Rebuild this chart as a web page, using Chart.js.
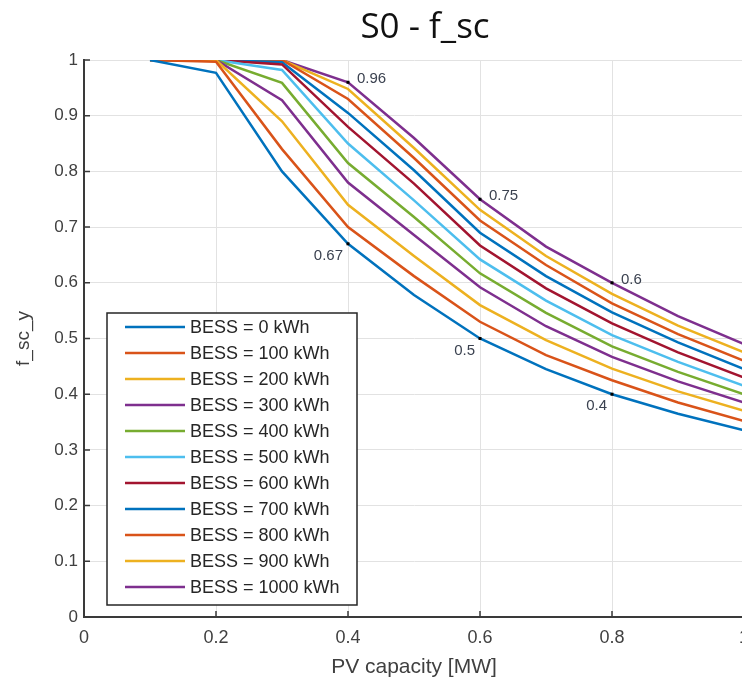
<!DOCTYPE html>
<html>
<head>
<meta charset="utf-8">
<script src="https://cdn.jsdelivr.net/npm/chart.js@4.4.1/dist/chart.umd.min.js"></script>
<style>
  html, body { margin: 0; padding: 0; overflow: hidden; background: #fff; }
</style>
</head>
<body>
<canvas id="myChart" width="770" height="680"></canvas>
<script>
// PV capacity [MW] sampled every 0.1
const pvCapacity = [0.1, 0.2, 0.3, 0.4, 0.5, 0.6, 0.7, 0.8, 0.9, 1.0];

// f_sc_y for each battery size
const bess0    = [1.0, 0.977, 0.80, 0.67, 0.578, 0.50, 0.445, 0.40, 0.365, 0.335];
const bess100  = [1.0, 0.997, 0.84, 0.70, 0.612, 0.53, 0.470, 0.425, 0.385, 0.352];
const bess200  = [1.0, 1.0, 0.89, 0.74, 0.648, 0.56, 0.497, 0.446, 0.405, 0.370];
const bess300  = [1.0, 1.0, 0.928, 0.78, 0.686, 0.592, 0.522, 0.467, 0.423, 0.385];
const bess400  = [1.0, 1.0, 0.959, 0.815, 0.718, 0.617, 0.546, 0.486, 0.440, 0.400];
const bess500  = [1.0, 1.0, 0.982, 0.85, 0.748, 0.642, 0.568, 0.506, 0.458, 0.415];
const bess600  = [1.0, 1.0, 0.992, 0.88, 0.778, 0.667, 0.590, 0.527, 0.475, 0.430];
const bess700  = [1.0, 1.0, 0.996, 0.905, 0.802, 0.69, 0.612, 0.547, 0.493, 0.445];
const bess800  = [1.0, 1.0, 1.0, 0.93, 0.824, 0.712, 0.632, 0.563, 0.508, 0.460];
const bess900  = [1.0, 1.0, 1.0, 0.948, 0.842, 0.731, 0.648, 0.580, 0.523, 0.475];
const bess1000 = [1.0, 1.0, 1.0, 0.96, 0.86, 0.75, 0.665, 0.60, 0.540, 0.490];

const bessSizes = [0, 100, 200, 300, 400, 500, 600, 700, 800, 900, 1000];
const series = [bess0, bess100, bess200, bess300, bess400, bess500,
                bess600, bess700, bess800, bess900, bess1000];

// x positions where the outer curves are marked with their value
const markedX = [0.4, 0.6, 0.8];

const xTicks = [0, 0.2, 0.4, 0.6, 0.8, 1];
const yTicks = [0, 0.1, 0.2, 0.3, 0.4, 0.5, 0.6, 0.7, 0.8, 0.9, 1];

// default matlab line order
const colors = ['#0072BD', '#D95319', '#EDB120', '#7E2F8E', '#77AC30',
                '#4DBEEE', '#A2142F'];

const datasets = series.map((vals, i) => ({
  label: 'BESS = ' + bessSizes[i] + ' kWh',
  data: vals.map((v, j) => ({ x: pvCapacity[j], y: v })),
  borderColor: colors[i % colors.length],
  backgroundColor: colors[i % colors.length],
  borderWidth: 2.5,
  pointRadius: 0,
  tension: 0,
  fill: false
}));

const AXIS = '#3a3a3a';
const fmt = v => String(+v.toFixed(2));

// inward tick marks like matlab
const innerTicks = {
  id: 'innerTicks',
  afterDatasetsDraw(chart) {
    const { ctx, chartArea: a, scales: { x, y } } = chart;
    ctx.save();
    ctx.strokeStyle = AXIS;
    ctx.lineWidth = 1.5;
    ctx.beginPath();
    xTicks.forEach(v => {
      const px = x.getPixelForValue(v);
      ctx.moveTo(px, a.bottom);
      ctx.lineTo(px, a.bottom - 6);
    });
    yTicks.forEach(v => {
      const py = y.getPixelForValue(v);
      ctx.moveTo(a.left, py);
      ctx.lineTo(a.left + 6, py);
    });
    ctx.stroke();
    ctx.restore();
  }
};

// value labels on the 0 kWh and 1000 kWh curves
const valueLabels = {
  id: 'valueLabels',
  afterDatasetsDraw(chart) {
    const { ctx, scales: { x, y } } = chart;
    ctx.save();
    ctx.font = '15px "Liberation Sans", Arial, sans-serif';
    ctx.textBaseline = 'middle';
    const top = series.length - 1;
    [0, top].forEach(di => {
      markedX.forEach(mx => {
        const idx = pvCapacity.indexOf(mx);
        const val = series[di][idx];
        const px = x.getPixelForValue(mx);
        const py = y.getPixelForValue(val);
        ctx.fillStyle = '#000';
        ctx.fillRect(px - 1.5, py - 1.5, 3, 3);
        ctx.fillStyle = '#3b4250';
        if (di === top) {
          ctx.textAlign = 'left';
          ctx.fillText(fmt(val), px + 9, py - 3);
        } else {
          ctx.textAlign = 'right';
          ctx.fillText(fmt(val), px - 5, py + 12);
        }
      });
    });
    ctx.restore();
  }
};

// boxed legend in the lower left corner of the axes
const boxLegend = {
  id: 'boxLegend',
  afterDraw(chart) {
    const { ctx, chartArea: a } = chart;
    const left = a.left + 23, top = a.top + 253;
    const w = 250, h = 292, row = 26;
    ctx.save();
    ctx.fillStyle = '#fff';
    ctx.fillRect(left, top, w, h);
    ctx.strokeStyle = '#262626';
    ctx.lineWidth = 1.5;
    ctx.strokeRect(left, top, w, h);
    ctx.font = '18px "Liberation Sans", Arial, sans-serif';
    ctx.textBaseline = 'middle';
    ctx.textAlign = 'left';
    chart.data.datasets.forEach((ds, i) => {
      const cy = top + 14 + i * row;
      ctx.strokeStyle = ds.borderColor;
      ctx.lineWidth = 2.5;
      ctx.beginPath();
      ctx.moveTo(left + 18, cy);
      ctx.lineTo(left + 78, cy);
      ctx.stroke();
      ctx.fillStyle = '#262626';
      ctx.fillText(ds.label, left + 83, cy + 1);
    });
    ctx.restore();
  }
};

const plotTitle = {
  id: 'plotTitle',
  afterDraw(chart) {
    const { ctx, chartArea: a } = chart;
    ctx.save();
    ctx.font = '35px "Open Sans", sans-serif';
    ctx.fillStyle = '#111';
    ctx.textAlign = 'center';
    ctx.textBaseline = 'middle';
    ctx.fillText('S0 - f_sc', (a.left + a.right) / 2 + 11, 28);
    ctx.restore();
  }
};

const tickFont = { family: '"Liberation Sans", Arial, sans-serif', size: 17 };

const config = {
  type: 'line',
  data: { datasets },
  options: {
    responsive: false,
    animation: false,
    layout: { padding: { top: 60, right: 26, left: 0, bottom: 0 } },
    plugins: {
      legend: { display: false },
      title: { display: false },
      tooltip: { enabled: false }
    },
    scales: {
      x: {
        type: 'linear',
        min: 0, max: 1,
        afterBuildTicks: s => { s.ticks = xTicks.map(v => ({ value: v })); },
        afterFit: s => { s.height = 63; },
        grid: { color: '#e2e2e2', lineWidth: 1, drawTicks: false },
        border: { color: AXIS, width: 2 },
        ticks: {
          padding: 10,
          color: '#404040',
          font: { ...tickFont, size: 18 },
          callback: v => fmt(v)
        },
        title: {
          display: true,
          text: 'PV capacity [MW]',
          color: '#404040',
          padding: { top: 0, bottom: 0 },
          font: { family: '"Liberation Sans", Arial, sans-serif', size: 21 }
        }
      },
      y: {
        min: 0, max: 1,
        afterBuildTicks: s => { s.ticks = yTicks.map(v => ({ value: v })); },
        afterFit: s => { s.width = 84; },
        grid: { color: '#e2e2e2', lineWidth: 1, drawTicks: false },
        border: { color: AXIS, width: 2 },
        ticks: {
          padding: 6,
          color: '#404040',
          font: tickFont,
          callback: v => fmt(v)
        },
        title: {
          display: true,
          text: 'f_sc_y',
          color: '#404040',
          padding: { top: 12, bottom: 0 },
          font: { family: '"Liberation Sans", Arial, sans-serif', size: 19 }
        }
      }
    }
  },
  plugins: [innerTicks, valueLabels, boxLegend, plotTitle]
};

const myChart = new Chart(document.getElementById('myChart'), config);
</script>
</body>
</html>
